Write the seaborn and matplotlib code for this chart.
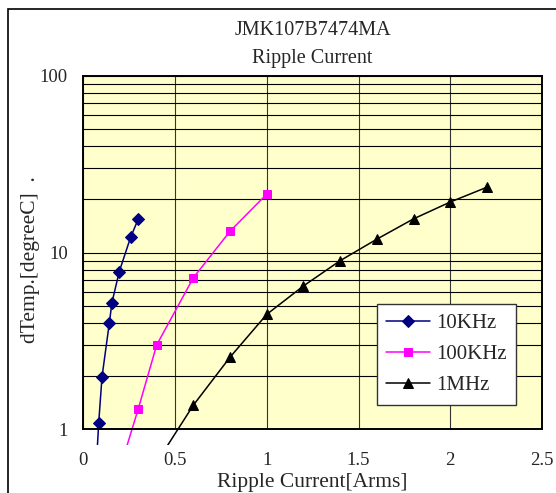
import numpy as np
import pandas as pd
import matplotlib
matplotlib.use("Agg")
import matplotlib.pyplot as plt
import matplotlib.patches as patches
from matplotlib.ticker import LogLocator, FixedLocator, FixedFormatter, NullFormatter
import seaborn as sns

# data (last point of each series lies below the axis)
x_10k = [0.07, 0.084, 0.102, 0.142, 0.156, 0.196, 0.258, 0.30]
y_10k = [0.6, 1.09, 1.98, 4.0, 5.2, 7.8, 12.2, 15.5]
x_100k = [0.2, 0.3, 0.4, 0.6, 0.8, 1.0]
y_100k = [0.6, 1.31, 3.0, 7.2, 13.2, 21.4]
x_1m = [0.4, 0.6, 0.8, 1.0, 1.2, 1.4, 1.6, 1.8, 2.0, 2.2]
y_1m = [0.65, 1.37, 2.56, 4.47, 6.47, 8.99, 11.9, 15.5, 19.3, 23.4]

labels = ["10KHz", "100KHz", "1MHz"]
colors = ["#000080", "#FF00FF", "#000000"]
markers = ["D", "s", "^"]
msizes = [6.5, 6, 7.5]

x_ticks = [0, 0.5, 1, 1.5, 2, 2.5]
x_ticklabels = ["0", "0.5", "1", "1.5", "2", "2.5"]
y_ticks = [1, 10, 100]
y_ticklabels = ["1", "10", "100"]

sns.set_style("white")
plt.rcParams["font.family"] = ["Liberation Serif", "DejaVu Serif"]

W, H = 556, 493
fig = plt.figure(figsize=(W / 100, H / 100), dpi=100)
ax = fig.add_axes([83.3 / W, 1 - 429.3 / H, 458.7 / W, 353.6 / H])
ax.set_facecolor("#FFFFCC")

series = [(x_10k, y_10k), (x_100k, y_100k), (x_1m, y_1m)]
for (xs, ys), lab, c, m, ms in zip(series, labels, colors, markers, msizes):
    df = pd.DataFrame({"x": xs, "y": ys})
    sns.lineplot(data=df, x="x", y="y", ax=ax, color=c, marker=m, markersize=ms,
                 markeredgecolor=c, markerfacecolor=c, linewidth=1.1, label=lab)

ax.set_yscale("log")
ax.set_xlim(0, 2.5)
ax.set_ylim(1, 100)

# lines in the reference run a little past the bottom of the plot
clip = patches.Rectangle((0, -0.045), 1, 1.045, transform=ax.transAxes)
for ln in ax.lines:
    ln.set_clip_path(clip)

ax.xaxis.set_major_locator(FixedLocator(x_ticks))
ax.xaxis.set_major_formatter(FixedFormatter(x_ticklabels))
ax.yaxis.set_major_locator(FixedLocator(y_ticks))
ax.yaxis.set_major_formatter(FixedFormatter(y_ticklabels))
ax.yaxis.set_minor_locator(LogLocator(base=10, subs=np.arange(2, 10)))
ax.yaxis.set_minor_formatter(NullFormatter())

ax.grid(True, axis="y", which="both", color="black", linewidth=0.8)
ax.grid(True, axis="x", which="major", color="#333333", linewidth=0.8)
ax.set_axisbelow(True)

ax.tick_params(axis="x", which="both", length=0, pad=16, labelsize=13.5)
ax.tick_params(axis="y", which="both", length=0, pad=11, labelsize=13.5)
for s in ax.spines.values():
    s.set_color("black")
    s.set_linewidth(1.4)

ax.set_xlabel("Ripple Current[Arms]", fontsize=15.5, labelpad=3)
ax.set_ylabel("dTemp.[degreeC]  .", fontsize=15.5)
ax.yaxis.set_label_coords(-0.095, 0.48)
ax.set_title("JMK107B7474MA\nRipple Current", fontsize=14.5, linespacing=1.65, pad=9)

leg = ax.legend(loc="upper left", bbox_to_anchor=(0.640, 0.354), fontsize=15,
                frameon=True, fancybox=False, framealpha=1, edgecolor="#333333",
                handlelength=2.1, handletextpad=0.3, labelspacing=0.55,
                borderpad=0.45, borderaxespad=0)
leg.get_frame().set_linewidth(1.0)

# outer chart border (open to the right and bottom like the reference crop)
fig.patches.append(patches.Rectangle((7.5 / W, -0.2), 1.5, 1.2 - 8.5 / H,
                                     transform=fig.transFigure, fill=False,
                                     edgecolor="black", linewidth=1.2))

fig.savefig("out.png", dpi=100)
